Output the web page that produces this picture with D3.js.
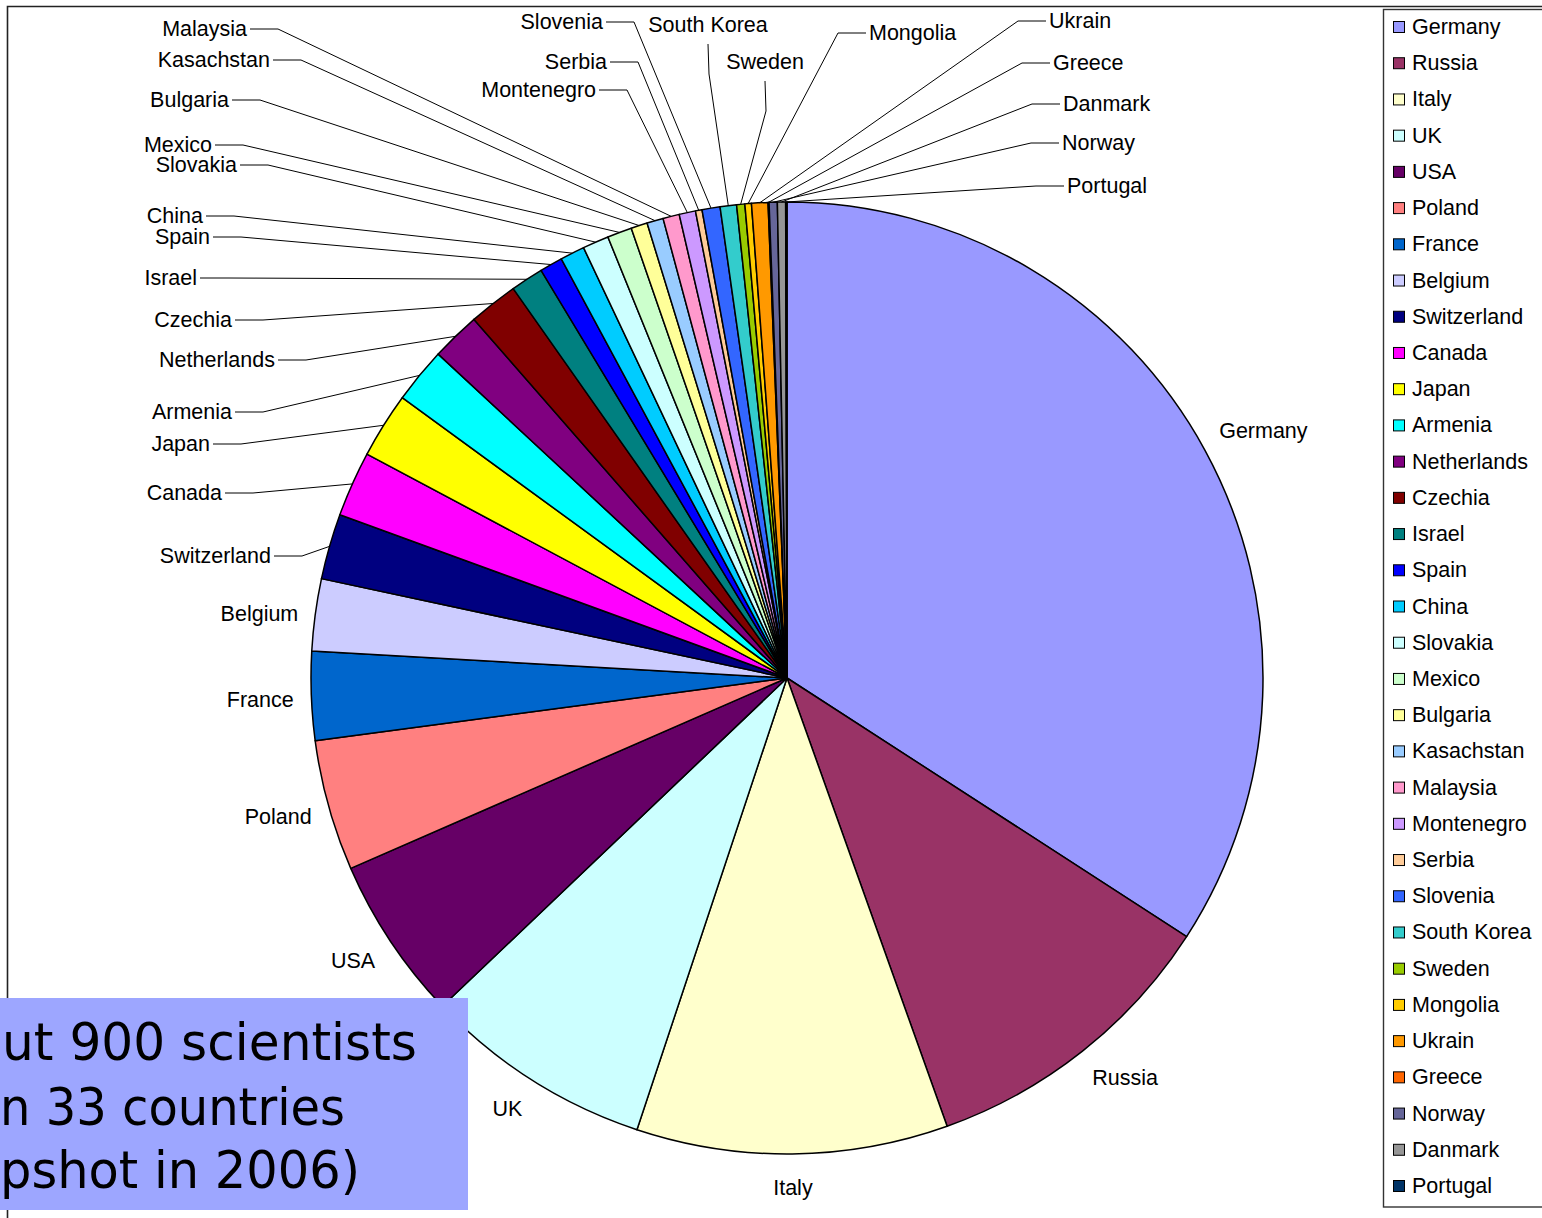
<!DOCTYPE html>
<html>
<head>
<meta charset="utf-8">
<script src="https://cdn.jsdelivr.net/npm/d3@7"></script>
<style>
  html, body { margin: 0; padding: 0; background: #fff; }
  svg { display: block; }
</style>
</head>
<body>
<svg id="chart" width="1542" height="1218"></svg>
<script>
// Countries in slice order (clockwise from 12 o'clock) and approximate head counts
const countries = [
  "Germany", "Russia", "Italy", "UK", "USA", "Poland", "France", "Belgium",
  "Switzerland", "Canada", "Japan", "Armenia", "Netherlands", "Czechia",
  "Israel", "Spain", "China", "Slovakia", "Mexico", "Bulgaria", "Kasachstan",
  "Malaysia", "Montenegro", "Serbia", "Slovenia", "South Korea", "Sweden",
  "Mongolia", "Ukrain", "Greece", "Norway", "Danmark", "Portugal"
];
const scientists = [
  307, 93.5, 95, 70, 50, 40, 27, 22,
  20, 20, 20, 17, 15, 15,
  10, 7, 7.5, 8, 7.5, 5, 5,
  5, 5, 2, 5.5, 5, 2.5,
  2, 5, 0.3, 2.5, 2.5, 0.4
];
const sliceColors = [
  "#9999FF", "#993366", "#FFFFCC", "#CCFFFF", "#660066", "#FF8080", "#0066CC", "#CCCCFF",
  "#000080", "#FF00FF", "#FFFF00", "#00FFFF", "#800080", "#800000",
  "#008080", "#0000FF", "#00CCFF", "#CCFFFF", "#CCFFCC", "#FFFF99", "#99CCFF",
  "#FF99CC", "#CC99FF", "#FFCC99", "#3366FF", "#33CCCC", "#99CC00",
  "#FFCC00", "#FF9900", "#FF6600", "#666699", "#969696", "#003366"
];
const noteLines = ["ut 900 scientists", "n 33 countries", "pshot in 2006)"];

// Where the crowded small-slice labels sit (anchor point, text-anchor side)
const calloutPlacement = {
  "Mongolia":    { side: "start",  x: 869,  y: 33 },
  "Ukrain":      { side: "start",  x: 1049, y: 21 },
  "Greece":      { side: "start",  x: 1053, y: 63 },
  "Danmark":     { side: "start",  x: 1063, y: 104 },
  "Norway":      { side: "start",  x: 1062, y: 143 },
  "Portugal":    { side: "start",  x: 1067, y: 186 },
  "South Korea": { side: "middle", x: 708,  y: 25 },
  "Sweden":      { side: "middle", x: 765,  y: 62 },
  "Slovenia":    { side: "end",    x: 603,  y: 22 },
  "Serbia":      { side: "end",    x: 607,  y: 62 },
  "Montenegro":  { side: "end",    x: 596,  y: 90 },
  "Malaysia":    { side: "end",    x: 247,  y: 29 },
  "Kasachstan":  { side: "end",    x: 270,  y: 60 },
  "Bulgaria":    { side: "end",    x: 229,  y: 100 },
  "Mexico":      { side: "end",    x: 212,  y: 145 },
  "Slovakia":    { side: "end",    x: 237,  y: 165 },
  "China":       { side: "end",    x: 203,  y: 216 },
  "Spain":       { side: "end",    x: 210,  y: 237 },
  "Israel":      { side: "end",    x: 197,  y: 278 },
  "Czechia":     { side: "end",    x: 232,  y: 320 },
  "Netherlands": { side: "end",    x: 275,  y: 360 },
  "Armenia":     { side: "end",    x: 232,  y: 412 },
  "Japan":       { side: "end",    x: 210,  y: 444 },
  "Canada":      { side: "end",    x: 222,  y: 493 },
  "Switzerland": { side: "end",    x: 271,  y: 556 }
};

const FONT = "'Liberation Sans', Arial, Helvetica, sans-serif";
const FONT_SIZE = 21.5;
const svg = d3.select("#chart");
const cx = 787, cy = 678, radius = 476;

const rows = countries.map((c, i) => ({ country: c, value: scientists[i] }));
const color = d3.scaleOrdinal().domain(countries).range(sliceColors);

// Chart frame
svg.append("path")
  .attr("d", "M7.5,1218 V6.5 H1542")
  .attr("fill", "none").attr("stroke", "#222").attr("stroke-width", 1.6);

// Pie
const pie = d3.pie().value(d => d.value).sort(null).startAngle(0).endAngle(2 * Math.PI);
const arcs = pie(rows);
const arc = d3.arc().innerRadius(0).outerRadius(radius);
const plot = svg.append("g").attr("transform", `translate(${cx},${cy})`);

plot.selectAll("path.slice").data(arcs).join("path")
  .attr("class", "slice")
  .attr("d", arc)
  .attr("fill", d => color(d.data.country))
  .attr("stroke", "#000")
  .attr("stroke-width", 1.5)
  .attr("stroke-linejoin", "round");

// Labels
const labels = svg.append("g").attr("font-family", FONT).attr("font-size", FONT_SIZE).attr("fill", "#000");
const leaders = svg.append("g").attr("fill", "none").attr("stroke", "#000").attr("stroke-width", 1);

arcs.forEach(a => {
  const name = a.data.country;
  const mid = (a.startAngle + a.endAngle) / 2;
  const rimX = cx + radius * Math.sin(mid);
  const rimY = cy - radius * Math.cos(mid);
  const place = calloutPlacement[name];
  if (place) {
    labels.append("text")
      .attr("x", place.x).attr("y", place.y)
      .attr("text-anchor", place.side)
      .attr("dominant-baseline", "central")
      .text(name);
    let pts;
    if (place.side === "end") {
      pts = [[place.x + 3, place.y], [place.x + 31, place.y], [rimX, rimY]];
    } else if (place.side === "start") {
      pts = [[place.x - 3, place.y], [place.x - 31, place.y], [rimX, rimY]];
    } else {
      pts = [[place.x, place.y + 19], [place.x + 1, place.y + 49], [rimX, rimY]];
    }
    leaders.append("path").attr("d", d3.line()(pts));
  } else {
    // Large slices: label box just outside the rim, along the slice's mid angle
    const t = labels.append("text").attr("text-anchor", "middle").attr("dominant-baseline", "central").text(name);
    const w = t.node().getComputedTextLength();
    const h = 20;
    const r2 = radius + 21;
    const s = Math.sin(mid), c = Math.cos(mid);
    const fx = Math.max(-0.9, Math.min(0.9, 1.7 * s));
    const px = cx + r2 * s, py = cy - r2 * c;
    t.attr("x", px + fx * w / 2).attr("y", py - c * h / 2 + (c < 0.3 ? 3 : -5));
  }
});

// Legend
const legend = svg.append("g");
legend.append("rect")
  .attr("x", 1383.5).attr("y", 9.5).attr("width", 200).attr("height", 1197.5)
  .attr("fill", "#fff").attr("stroke", "#333").attr("stroke-width", 1.4);
const legendY = d3.scalePoint().domain(countries).range([27, 1186]);
const items = legend.selectAll("g.item").data(rows).join("g")
  .attr("class", "item")
  .attr("transform", d => `translate(1393,${legendY(d.country)})`);
items.append("rect")
  .attr("x", 0.5).attr("y", -5.5).attr("width", 11).attr("height", 11)
  .attr("fill", d => color(d.country)).attr("stroke", "#000").attr("stroke-width", 1);
items.append("text")
  .attr("x", 19).attr("y", 0)
  .attr("dominant-baseline", "central")
  .attr("font-family", FONT).attr("font-size", FONT_SIZE)
  .text(d => d.country);

// Note box
const note = svg.append("g");
note.append("rect")
  .attr("x", 0).attr("y", 998).attr("width", 468).attr("height", 212)
  .attr("fill", "#9DA6FF");
const noteGeom = [
  { x: 2, base: 1060, len: 415 },
  { x: 0, base: 1125, len: 345 },
  { x: 0, base: 1188, len: 360 }
];
note.selectAll("text").data(noteLines).join("text")
  .attr("x", (d, i) => noteGeom[i].x)
  .attr("y", (d, i) => noteGeom[i].base)
  .attr("textLength", (d, i) => noteGeom[i].len)
  .attr("lengthAdjust", "spacingAndGlyphs")
  .attr("font-family", "'DejaVu Sans', 'Noto Sans', sans-serif")
  .attr("font-size", 52)
  .attr("fill", "#000")
  .text(d => d);
</script>
</body>
</html>
